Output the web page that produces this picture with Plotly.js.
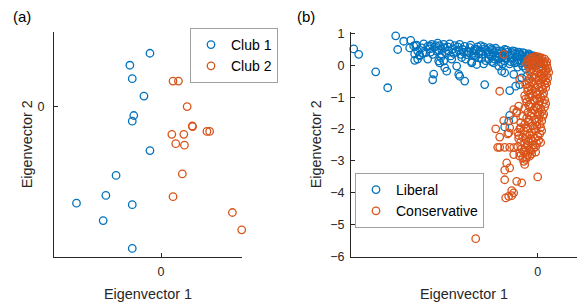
<!DOCTYPE html>
<html>
<head>
<meta charset="utf-8">
<script src="https://cdn.plot.ly/plotly-3.0.1.min.js"></script>
<style>html,body{margin:0;padding:0;background:#fff;}#chart{width:581px;height:307px;}</style>
</head>
<body>
<div id="chart"></div>
<script>
// (a) Karate club: [eigenvector 1, eigenvector 2]
const club1Pts = [
  [-0.037, 0.179], [-0.104, 0.139], [-0.096, 0.094], [-0.057, 0.036], [-0.091, -0.029],
  [-0.096, -0.048], [-0.037, -0.146], [-0.150, -0.229], [-0.184, -0.296], [-0.282, -0.322],
  [-0.096, -0.327], [-0.193, -0.380], [-0.096, -0.473]
];
const club2Pts = [
  [0.040, 0.086], [0.058, 0.086], [0.087, 0.001], [0.104, -0.064], [0.105, -0.066],
  [0.036, -0.092], [0.076, -0.092], [0.153, -0.082], [0.162, -0.082], [0.049, -0.123],
  [0.078, -0.128], [0.071, -0.224], [0.040, -0.300], [0.238, -0.353], [0.269, -0.411]
];

// (b) Political blogs: [eigenvector 1, eigenvector 2]
const liberalPts = [
  [-1.84, 0.52], [-1.79, 0.35], [-1.62, -0.20], [-1.50, -0.70], [-1.42, 0.93], [-1.40, 0.50],
  [-1.34, 0.76], [-1.27, 0.79], [-1.28, 0.55], [-1.24, 0.61], [-1.21, 0.64], [-1.23, 0.36],
  [-1.18, 0.33], [-1.23, 0.16], [-1.20, 0.20], [-1.15, 0.40], [-1.08, 0.61], [-0.99, 0.14],
  [-0.98, 0.08], [-1.04, -0.27], [-1.05, -0.45],
  [-1.22, 0.62], [-1.20, 0.45], [-1.18, 0.30], [-1.16, 0.55], [-1.14, 0.68], [-1.12, 0.40],
  [-1.10, 0.60], [-1.08, 0.52], [-1.06, 0.66], [-1.05, 0.35], [-1.03, 0.58], [-1.01, 0.45],
  [-1.00, 0.70], [-0.98, 0.62], [-0.97, 0.25], [-0.96, 0.50], [-0.94, 0.66], [-0.92, 0.40],
  [-0.90, 0.58], [-0.88, 0.68], [-0.87, 0.30], [-0.85, 0.52], [-0.83, 0.62], [-0.82, 0.44],
  [-0.80, 0.58], [-0.78, 0.66], [-0.77, 0.35], [-0.75, 0.50], [-0.73, 0.60], [-0.72, 0.20],
  [-0.70, 0.45], [-0.68, 0.56], [-0.67, 0.64], [-0.65, 0.38], [-0.63, 0.52], [-0.62, 0.28],
  [-0.60, 0.58], [-0.58, 0.46], [-0.57, 0.62], [-0.55, 0.35], [-0.53, 0.52], [-0.52, 0.15],
  [-0.50, 0.42], [-0.48, 0.56], [-0.47, 0.30], [-0.45, 0.48], [-0.43, 0.20], [-0.42, 0.54],
  [-0.40, 0.38], [-0.38, 0.46], [-0.37, 0.10], [-0.35, 0.30], [-0.33, 0.50], [-0.32, 0.22],
  [-0.30, 0.42], [-0.28, 0.05], [-0.27, 0.34], [-0.25, 0.46], [-0.24, 0.15], [-0.22, 0.38],
  [-0.20, 0.26], [-0.19, 0.42], [-0.17, 0.08], [-0.16, 0.32], [-0.14, 0.20], [-0.13, 0.38],
  [-0.11, 0.12], [-0.10, 0.28], [-0.08, 0.33], [-0.07, 0.18], [-0.06, 0.05], [-0.05, 0.25],
  [-0.04, 0.30], [-0.03, 0.14], [-0.02, 0.22], [-0.01, 0.08], [0.00, 0.18], [0.01, 0.24],
  [0.02, 0.12], [-0.09, 0.02], [-0.15, -0.02], [-0.21, 0.10], [-0.36, 0.24], [-0.46, 0.12],
  [-0.56, 0.22], [-0.66, 0.12], [-0.76, 0.25], [-0.86, 0.20], [-0.96, 0.35], [-1.10, 0.20],
  [-0.94, 0.14], [-0.93, -0.07], [-0.91, -0.18], [-0.81, -0.02], [-0.79, -0.28], [-0.78, -0.34],
  [-0.73, -0.49], [-0.66, 0.08], [-0.61, 0.03], [-0.53, -0.60], [-0.44, 0.08], [-0.39, -0.02],
  [-0.36, -0.18], [-0.33, -0.23], [-0.24, -0.28], [-0.28, -0.79], [-0.22, -0.65], [-0.16, -0.39],
  [-0.11, -0.34], [-0.18, -0.60], [-0.28, -1.57], [-0.33, -1.93], [-0.29, -1.75],
  [-0.69, 0.40], [-0.64, 0.46], [-0.61, 0.50], [-0.59, 0.36], [-0.56, 0.44], [-0.54, 0.58],
  [-0.51, 0.48], [-0.49, 0.36], [-0.46, 0.52], [-0.44, 0.40], [-0.41, 0.46], [-0.39, 0.28],
  [-0.36, 0.44], [-0.34, 0.38], [-0.31, 0.48], [-0.29, 0.30], [-0.26, 0.40], [-0.23, 0.44],
  [-0.21, 0.32], [-0.18, 0.36], [-0.15, 0.40], [-0.12, 0.30], [-0.09, 0.36], [-0.06, 0.30],
  [-0.03, 0.26], [-0.26, 0.22], [-0.23, 0.08], [-0.19, 0.18], [-0.13, 0.10], [-0.10, 0.20],
  [-0.33, 0.14], [-0.41, 0.24], [-0.49, 0.20], [-0.54, 0.05], [-0.59, 0.24], [-0.64, 0.30],
  [-0.71, 0.34], [-0.74, 0.42], [-0.79, 0.48], [-0.84, 0.38], [-0.89, 0.46], [-0.93, 0.56],
  [-0.99, 0.48], [-1.02, 0.62], [-1.07, 0.42], [-0.45, 0.30], [-0.35, 0.05], [-0.27, 0.12],
  [-0.20, -0.05], [-0.12, -0.10], [-0.05, 0.02], [0.02, 0.05]
];
const conservativePts = [
  [-0.10, 0.15], [-0.08, 0.22], [-0.05, 0.25], [-0.02, 0.28], [0.01, 0.27], [0.04, 0.24],
  [0.07, 0.20], [0.09, 0.12], [-0.11, 0.05], [-0.07, 0.10], [-0.03, 0.12], [0.00, 0.15],
  [0.03, 0.10], [0.06, 0.05], [0.09, 0.00], [0.10, -0.10], [0.08, -0.15], [-0.09, -0.05],
  [-0.05, -0.02], [-0.01, 0.02], [0.02, -0.05], [0.05, -0.10], [-0.08, -0.20], [-0.04, -0.15],
  [0.00, -0.22], [0.03, -0.28], [0.06, -0.25], [0.09, -0.30], [-0.06, -0.35], [-0.02, -0.40],
  [0.01, -0.45], [0.05, -0.42], [0.08, -0.48], [-0.09, -0.50], [0.11, -0.22],
  [-0.12, -0.60], [-0.08, -0.65], [-0.04, -0.58], [0.00, -0.62], [0.04, -0.68], [0.07, -0.60],
  [-0.10, -0.80], [-0.06, -0.75], [-0.02, -0.85], [0.02, -0.80], [0.06, -0.88], [-0.13, -0.95],
  [-0.09, -1.00], [-0.05, -0.95], [-0.01, -1.05], [0.03, -1.00], [0.07, -1.08], [-0.11, -1.15],
  [-0.07, -1.20], [-0.03, -1.12], [0.01, -1.25], [0.05, -1.18], [-0.13, -1.35], [-0.08, -1.30],
  [-0.04, -1.40], [0.00, -1.35], [0.04, -1.45], [0.07, -1.30], [-0.10, -1.48], [0.02, -1.55],
  [-0.15, -1.60], [-0.11, -1.65], [-0.07, -1.58], [-0.03, -1.70], [0.01, -1.68], [0.04, -1.75],
  [-0.17, -1.80], [-0.13, -1.85], [-0.09, -1.78], [-0.05, -1.90], [-0.01, -1.88], [0.03, -1.95],
  [-0.18, -2.00], [-0.14, -2.05], [-0.10, -1.98], [-0.06, -2.10], [-0.02, -2.05], [0.02, -2.15],
  [-0.19, -2.20], [-0.15, -2.25], [-0.11, -2.18], [-0.07, -2.30], [-0.03, -2.28], [0.01, -2.35],
  [-0.17, -2.40], [-0.13, -2.45], [-0.09, -2.38], [-0.05, -2.50], [-0.01, -2.45], [0.03, -2.42],
  [-0.20, -2.55], [-0.16, -2.62], [-0.12, -2.58], [-0.08, -2.65], [-0.04, -2.60], [-0.18, -2.75],
  [-0.14, -2.72], [-0.10, -2.80], [-0.06, -2.78], [-0.15, -2.90], [-0.11, -2.88],
  [-0.34, 0.35], [-0.18, -0.44], [-0.38, -0.81], [-0.19, -1.28], [-0.21, -1.49], [-0.24, -1.70],
  [-0.34, -1.73], [-0.42, -1.99], [-0.38, -2.25], [-0.30, -2.15], [-0.40, -2.57], [-0.38, -2.57],
  [-0.33, -2.57], [-0.28, -2.57], [-0.24, -2.58], [-0.31, -3.06], [-0.28, -3.22], [-0.14, -3.01],
  [-0.13, -3.11], [-0.24, -2.80], [-0.18, -2.85], [0.06, -1.53], [0.00, -3.50], [-0.33, -3.59],
  [-0.21, -3.64], [-0.16, -3.69], [-0.26, -3.93], [-0.24, -4.00], [-0.29, -4.11], [-0.32, -4.16],
  [-0.26, -4.09], [-0.33, -3.29], [-0.62, -5.44], [-0.09, 0.08], [-0.06, 0.14], [-0.24, -1.39],
  [-0.21, -1.44], [-0.28, -1.96], [-0.29, -2.12],
  [-0.06, 0.20], [-0.01, 0.22], [0.03, 0.18], [0.06, 0.12], [0.08, 0.06], [-0.04, 0.05],
  [0.01, -0.10], [0.04, -0.02], [0.07, -0.20], [-0.06, -0.10], [-0.03, -0.30], [0.02, -0.35],
  [0.06, -0.38], [-0.08, -0.42], [0.10, -0.40], [-0.05, -0.52], [0.03, -0.55], [0.09, -0.55],
  [-0.10, -0.70], [-0.02, -0.70], [0.05, -0.75], [0.08, -0.70], [-0.08, -0.90], [0.00, -0.92],
  [0.05, -0.95], [-0.12, -1.05], [-0.04, -1.08], [0.02, -1.12], [0.08, -1.20], [-0.09, -1.25],
  [-0.02, -1.30], [0.03, -1.35], [-0.06, -1.50], [0.00, -1.50], [0.05, -1.60], [-0.09, -1.70],
  [-0.01, -1.78], [0.02, -1.85], [-0.12, -1.95], [-0.03, -1.98], [0.04, -2.05], [-0.08, -2.20],
  [0.00, -2.22], [-0.12, -2.32], [-0.05, -2.38], [-0.02, -2.55], [-0.10, -2.50], [-0.13, -2.65],
  [-0.07, -2.70], [-0.02, -2.72], [-0.12, -2.95], [-0.08, -2.85], [-0.19, -2.30], [-0.20, -2.10],
  [-0.17, -1.95]
];

const legendLabelsA = ['Club 1', 'Club 2'];
const legendLabelsB = ['Liberal', 'Conservative'];
const panelLabels = ['(a)', '(b)'];

const BLUE = '#0072BD', ORANGE = '#D95319';
const FONT = 'Liberation Sans, Arial, sans-serif';
const AXC = '#262626';

function mk(pts, name, color, xa, ya, leg) {
  return {
    x: pts.map(p => p[0]), y: pts.map(p => p[1]), name: name,
    type: 'scatter', mode: 'markers', xaxis: xa, yaxis: ya, legend: leg, cliponaxis: false,
    marker: {symbol: 'circle-open', size: 7.5, color: color, line: {width: 1.3, color: color}},
    hoverinfo: 'skip'
  };
}

const traces = [
  mk(club1Pts, legendLabelsA[0], BLUE, 'x', 'y', 'legend'),
  mk(club2Pts, legendLabelsA[1], ORANGE, 'x', 'y', 'legend'),
  mk(liberalPts, legendLabelsB[0], BLUE, 'x2', 'y2', 'legend2'),
  mk(conservativePts, legendLabelsB[1], ORANGE, 'x2', 'y2', 'legend2')
];

const axBase = {
  showline: true, linecolor: AXC, linewidth: 1, mirror: false,
  ticks: 'inside', ticklen: 4, tickwidth: 1, tickcolor: AXC,
  showgrid: false, zeroline: false, fixedrange: true,
  tickfont: {family: FONT, size: 12.5, color: AXC}
};
function ax(extra) { return Object.assign({}, axBase, extra); }
const titleFont = {family: FONT, size: 14.4, color: AXC};

const layout = {
  width: 581, height: 307,
  margin: {l: 0, r: 0, t: 0, b: 0},
  paper_bgcolor: '#fff', plot_bgcolor: '#fff',
  font: {family: FONT, color: AXC},
  xaxis: ax({domain: [54/581, 242/581], range: [-0.357, 0.27], tickvals: [0], anchor: 'y',
    ticklabelstandoff: 3,
    title: {text: 'Eigenvector 1', font: titleFont, standoff: 11}}),
  yaxis: ax({domain: [50.5/307, 275/307], range: [-0.5, 0.25], tickvals: [0], anchor: 'x',
    ticklabelstandoff: 6,
    title: {text: 'Eigenvector 2', font: titleFont, standoff: 1}}),
  xaxis2: ax({domain: [351/581, 577/581], range: [-1.867, 0.393], tickvals: [0], anchor: 'y2',
    ticklabelstandoff: 3,
    title: {text: 'Eigenvector 1', font: titleFont, standoff: 11}}),
  yaxis2: ax({domain: [50.5/307, 275/307], range: [-6, 1.05], tickvals: [-6, -5, -4, -3, -2, -1, 0, 1], anchor: 'x2',
    ticklabelstandoff: 3,
    title: {text: 'Eigenvector 2', font: titleFont, standoff: 5}}),
  showlegend: true,
  legend: {x: 190/581, y: 1 - 28/307, xanchor: 'left', yanchor: 'top',
    bgcolor: '#fff', bordercolor: '#a0a0a0', borderwidth: 1,
    font: {family: FONT, size: 14, color: '#000'}, tracegroupgap: 0},
  legend2: {x: 355/581, y: 1 - 173/307, xanchor: 'left', yanchor: 'top',
    bgcolor: '#fff', bordercolor: '#a0a0a0', borderwidth: 1,
    font: {family: FONT, size: 14, color: '#000'}, tracegroupgap: 0},
  annotations: [
    {text: panelLabels[0], xref: 'paper', yref: 'paper', x: 11/581, y: 1 - 6/307,
      xanchor: 'left', yanchor: 'top', showarrow: false, font: {family: FONT, size: 15, color: '#000'}},
    {text: panelLabels[1], xref: 'paper', yref: 'paper', x: 295/581, y: 1 - 6/307,
      xanchor: 'left', yanchor: 'top', showarrow: false, font: {family: FONT, size: 15, color: '#000'}}
  ]
};

Plotly.newPlot('chart', traces, layout, {staticPlot: true, displayModeBar: false});
</script>
</body>
</html>
